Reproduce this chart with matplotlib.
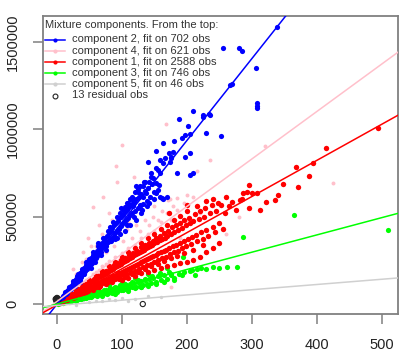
import matplotlib
matplotlib.use("Agg")
import matplotlib.pyplot as plt
from matplotlib.lines import Line2D

plt.rcParams['font.family'] = ['Liberation Sans', 'DejaVu Sans']

# ---------------- data ----------------
comp_names = ["component 2, fit on 702 obs", "component 4, fit on 621 obs",
              "component 1, fit on 2588 obs", "component 3, fit on 746 obs",
              "component 5, fit on 46 obs"]
comp_colors = ["#0000FF", "#FFC0CB", "#FF0000", "#00FF00", "#D0D0D0"]
line_slopes = [4690, 2720, 2070, 990, 300]
line_intercepts = [-1000, 15000, -5000, 0, -8000]

blue_pts = [(3, 14000), (5, 22000), (6, 31000), (8, 35000), (9, 46000), (11, 52000), (12, 60000), (14, 58000),
            (15, 75000), (17, 79000), (18, 92000), (20, 86000), (21, 105000), (23, 98000), (24, 118000),
            (26, 110000), (27, 133000), (29, 121000), (30, 145000), (31, 160000), (33, 138000), (34, 165000),
            (36, 180000), (37, 152000), (38, 190000), (40, 171000), (41, 205000), (43, 188000), (44, 222000),
            (46, 199000), (47, 236000), (48, 210000), (50, 250000), (51, 228000), (53, 262000), (54, 235000),
            (55, 278000), (57, 250000), (58, 290000), (60, 265000), (61, 305000), (62, 276000), (64, 320000),
            (65, 290000), (66, 335000), (68, 300000), (69, 350000), (70, 318000), (72, 362000), (73, 330000),
            (74, 380000), (76, 342000), (77, 392000), (78, 355000), (80, 405000), (81, 368000), (83, 420000),
            (84, 380000), (85, 435000), (87, 392000), (88, 450000), (90, 405000), (91, 462000), (92, 418000),
            (94, 478000), (95, 430000), (96, 490000), (98, 445000), (99, 500000), (100, 458000), (102, 512000),
            (103, 470000), (105, 528000), (106, 482000), (108, 540000), (110, 495000), (111, 555000),
            (113, 508000), (115, 570000), (116, 520000), (118, 585000), (120, 535000), (122, 600000),
            (124, 548000), (126, 615000), (128, 560000), (130, 630000), (132, 575000), (135, 648000),
            (138, 590000), (140, 665000), (143, 612000), (146, 690000), (150, 640000),
            (35, 140000), (45, 240000), (52, 230000), (63, 350000), (75, 310000), (82, 440000), (93, 380000),
            (97, 520000), (107, 450000), (112, 600000), (119, 500000), (125, 640000), (131, 540000),
            (136, 700000), (141, 580000), (148, 720000),
            (10, 40000), (13, 70000), (16, 62000), (19, 100000), (22, 85000), (25, 130000), (28, 105000),
            (32, 170000), (35, 125000), (39, 200000), (42, 170000), (45, 215000), (49, 260000), (52, 205000),
            (56, 300000), (59, 240000), (63, 330000), (67, 280000), (71, 380000), (75, 330000), (79, 420000),
            (83, 360000), (86, 470000), (89, 370000), (93, 500000), (97, 400000), (101, 540000),
            (104, 420000), (108, 580000), (112, 450000), (116, 610000), (121, 480000), (125, 660000),
            (129, 520000), (134, 700000), (139, 560000), (144, 750000), (149, 600000), (152, 780000),
            (157, 680000),
            (117, 596000), (109, 577000), (104, 557000), (117, 561000), (127, 567000), (99, 548000),
            (120, 643000), (137, 634000), (132, 614000), (155, 653000), (153, 634000), (158, 614000),
            (163, 600000), (127, 676000), (132, 676000), (122, 676000), (153, 691000), (145, 729000),
            (142, 700000), (155, 767000), (158, 748000), (140, 815000), (158, 825000), (163, 806000),
            (173, 863000), (176, 834000), (153, 878000), (163, 920000), (180, 935000), (192, 949000),
            (197, 968000), (205, 974000), (188, 1058000), (202, 1019000), (210, 1105000), (225, 1082000),
            (235, 1082000), (230, 977000), (253, 962000), (224, 1073000), (234, 1088000), (269, 1260000),
            (266, 1255000), (306, 1350000), (307, 1150000), (307, 1135000), (307, 1120000), (255, 1464000),
            (280, 1468000), (285, 1451000), (338, 1585000), (178, 872000), (205, 863000), (166, 834000),
            (176, 843000), (174, 815000), (197, 843000), (184, 752000), (205, 739000), (209, 748000),
            (161, 605000), (169, 614000)]

red_pts = [(2, 4000), (4, 7000), (5, 12500), (7, 13000), (8, 19000), (10, 18500), (11, 27000), (13, 24000),
           (14, 33000), (16, 28000), (17, 40000), (19, 36000), (20, 47000), (22, 40000), (23, 52000),
           (25, 46000), (26, 60000), (28, 50000), (29, 68000), (31, 57000), (32, 73000), (34, 62000),
           (35, 80000), (37, 66000), (38, 85000), (40, 75000), (41, 96000), (43, 78000), (44, 100000),
           (46, 84000), (47, 108000), (49, 90000), (50, 118000), (52, 95000), (53, 125000), (55, 100000),
           (56, 130000), (58, 108000), (59, 140000), (61, 112000), (62, 145000), (64, 118000), (65, 152000),
           (67, 122000), (68, 160000), (70, 130000), (71, 168000), (73, 135000), (74, 172000), (76, 140000),
           (77, 180000), (79, 146000), (80, 188000), (82, 150000), (83, 195000), (85, 158000), (86, 200000),
           (88, 162000), (89, 210000), (91, 168000), (92, 215000), (94, 175000), (95, 222000), (97, 180000),
           (98, 230000), (100, 185000), (101, 238000), (103, 190000), (104, 245000), (106, 196000),
           (107, 250000), (109, 200000), (110, 258000), (112, 206000), (113, 265000), (115, 212000),
           (116, 272000), (118, 218000), (119, 278000), (121, 225000), (122, 285000), (124, 230000),
           (125, 292000), (127, 236000), (128, 300000), (130, 242000), (131, 306000), (133, 246000),
           (134, 312000), (136, 252000), (137, 320000), (139, 258000), (140, 326000), (142, 262000),
           (143, 332000), (145, 270000), (146, 340000), (148, 275000), (150, 348000), (152, 282000),
           (154, 356000), (156, 290000), (158, 365000), (160, 298000), (162, 372000), (164, 305000),
           (166, 380000), (168, 312000), (170, 390000), (172, 320000), (175, 400000), (178, 330000),
           (180, 410000), (183, 340000), (186, 425000), (189, 350000), (192, 438000), (195, 362000),
           (198, 450000), (201, 375000), (204, 462000), (207, 385000), (210, 475000), (214, 398000),
           (218, 488000), (222, 410000), (226, 500000), (230, 425000), (235, 520000), (240, 440000),
           (245, 530000), (250, 465000),
           (20, 55000), (30, 80000), (40, 108000), (50, 135000), (60, 160000), (70, 188000), (80, 215000),
           (90, 242000), (100, 270000), (110, 296000), (120, 322000), (130, 350000), (140, 378000),
           (150, 400000), (160, 430000), (170, 455000), (180, 480000), (190, 505000), (200, 530000),
           (215, 560000), (230, 590000),
           (25, 37000), (35, 52000), (45, 67000), (55, 82000), (65, 97000), (75, 112000), (85, 127000),
           (95, 142000), (105, 156000), (115, 172000), (125, 186000), (135, 200000), (145, 216000),
           (155, 232000), (165, 246000), (175, 262000), (185, 276000), (195, 292000), (210, 312000),
           (225, 336000),
           (100, 140000), (110, 150000), (120, 160000), (130, 175000), (140, 185000), (150, 195000),
           (160, 205000), (170, 215000), (180, 225000), (190, 235000), (200, 240000), (210, 255000),
           (220, 270000), (230, 300000), (240, 320000), (250, 350000),
           (15, 22000), (18, 45000), (24, 60000), (27, 42000), (33, 88000), (36, 58000), (39, 100000),
           (42, 65000), (45, 115000), (48, 76000), (51, 128000), (54, 88000), (57, 145000), (60, 95000),
           (63, 160000), (66, 105000), (69, 175000), (72, 118000), (75, 190000), (78, 125000), (81, 205000),
           (84, 138000), (87, 222000), (90, 145000), (93, 235000), (96, 155000), (99, 250000), (102, 165000),
           (105, 262000), (108, 172000), (111, 280000), (114, 182000), (117, 295000), (120, 192000),
           (123, 305000), (126, 200000), (129, 325000), (132, 210000), (135, 338000), (138, 222000),
           (141, 350000), (144, 232000), (147, 362000), (150, 240000), (153, 380000), (156, 250000),
           (159, 392000), (162, 262000), (165, 408000), (168, 270000), (171, 420000), (174, 285000),
           (177, 440000), (180, 300000), (183, 450000), (186, 305000), (189, 465000), (192, 320000),
           (195, 480000), (198, 330000), (203, 495000), (206, 345000), (212, 515000), (216, 360000),
           (220, 535000), (224, 375000), (228, 550000), (232, 390000), (238, 565000), (243, 410000),
           (248, 580000), (255, 430000), (258, 520000), (265, 560000), (275, 540000), (285, 600000),
           (253, 567000), (269, 586000), (282, 596000), (295, 548000), (312, 538000), (322, 586000),
           (335, 596000), (295, 681000), (286, 636000), (292, 640000), (300, 638000), (308, 635000),
           (340, 624000), (348, 685000), (370, 672000), (367, 786000), (388, 735000), (394, 805000),
           (414, 892000), (494, 1006000), (172, 520000), (200, 565000), (240, 600000), (260, 610000)]

green_pts = [(2, 2000), (4, 5000), (6, 4000), (8, 9000), (10, 8000), (12, 13000), (14, 11000), (16, 17000),
             (18, 14000), (20, 21000), (22, 18000), (24, 25000), (26, 22000), (28, 30000), (30, 26000),
             (32, 33000), (34, 28000), (36, 38000), (38, 32000), (40, 42000), (42, 36000), (44, 46000),
             (46, 38000), (48, 50000), (50, 43000), (52, 55000), (54, 46000), (56, 58000), (58, 50000),
             (60, 62000), (62, 52000), (64, 66000), (66, 56000), (68, 70000), (70, 58000), (72, 74000),
             (74, 62000), (76, 78000), (78, 66000), (80, 82000), (82, 68000), (84, 86000), (86, 72000),
             (88, 90000), (90, 75000), (92, 94000), (94, 78000), (96, 98000), (98, 82000), (100, 102000),
             (103, 85000), (106, 108000), (109, 90000), (112, 115000), (115, 96000), (118, 120000),
             (121, 100000), (124, 126000), (127, 106000), (130, 132000), (133, 110000), (136, 138000),
             (139, 115000), (142, 145000), (145, 120000), (148, 150000), (152, 128000), (156, 158000),
             (160, 135000), (165, 165000), (170, 142000), (175, 172000), (180, 150000),
             (60, 85000), (80, 110000), (100, 130000), (120, 150000), (140, 170000), (70, 45000),
             (90, 60000), (110, 75000), (130, 95000),
             (5, 8000), (9, 12000), (13, 10000), (17, 20000), (21, 15000), (25, 28000), (29, 20000),
             (33, 38000), (37, 30000), (41, 47000), (45, 33000), (49, 55000), (53, 40000), (57, 62000),
             (61, 48000), (65, 72000), (69, 52000), (73, 80000), (77, 60000), (81, 90000), (85, 65000),
             (89, 98000), (93, 70000), (97, 108000), (101, 78000), (105, 115000), (110, 85000),
             (115, 125000), (120, 92000), (125, 135000), (130, 100000), (135, 145000), (140, 105000),
             (146, 160000), (152, 115000), (158, 175000), (164, 125000), (172, 185000), (180, 140000),
             (188, 170000), (196, 185000), (204, 190000),
             (158, 166000), (169, 206000), (176, 166000), (192, 166000), (212, 166000), (194, 267000),
             (208, 195000), (215, 200000), (222, 205000), (230, 198000), (240, 210000), (250, 205000),
             (262, 212000), (277, 212000), (286, 382000), (365, 510000), (509, 424000)]

pink_pts = [(3, 9000), (5, 12000), (8, 24000), (10, 30000), (12, 30000), (15, 45000), (18, 50000), (20, 60000),
            (22, 55000), (25, 75000), (28, 70000), (30, 90000), (33, 85000), (35, 105000), (38, 95000),
            (40, 120000), (43, 110000), (45, 135000), (48, 125000), (50, 150000), (53, 140000), (55, 170000),
            (58, 155000), (60, 185000), (63, 170000), (65, 195000), (68, 180000), (70, 215000), (73, 195000),
            (75, 230000), (78, 210000), (80, 245000), (85, 225000), (90, 270000), (95, 250000),
            (100, 290000), (105, 270000), (110, 320000), (115, 300000), (120, 340000), (130, 380000),
            (140, 400000), (150, 420000), (160, 470000), (175, 480000),
            (12, 60000), (20, 100000), (28, 130000), (35, 180000), (42, 210000), (50, 260000), (55, 300000),
            (62, 280000), (68, 350000), (75, 300000), (82, 380000), (88, 330000), (95, 420000),
            (102, 360000), (108, 430000), (115, 380000), (122, 450000), (128, 420000), (135, 480000),
            (142, 450000), (148, 500000), (155, 480000), (162, 530000), (170, 520000), (178, 560000),
            (185, 540000), (195, 580000), (48, 380000), (65, 450000), (80, 520000), (38, 240000),
            (52, 330000),
            (55, 553000), (71, 614000), (92, 700000), (91, 790000), (100, 910000), (118, 729000),
            (168, 1031000), (171, 596000), (174, 600000), (184, 605000), (200, 624000), (210, 614000),
            (215, 763000), (236, 825000), (320, 907000), (425, 691000), (176, 96000), (30, 170000),
            (45, 260000), (60, 330000), (25, 200000), (40, 300000), (70, 400000), (85, 480000),
            (110, 470000), (130, 520000), (150, 560000), (190, 380000), (200, 470000), (220, 520000),
            (240, 560000), (260, 400000), (280, 500000)]

gray_pts = [(10, 3000), (20, 6000), (30, 9000), (40, 23000), (50, 10000), (60, 18000), (80, 30000),
            (90, 25000), (100, 35000), (120, 28000), (140, 45000), (160, 40000), (30, -5000), (70, 15000),
            (110, 20000)]

resid_pts = [(132, 0), (0, 25000), (-1, 30000), (1, 20000), (0, 35000), (-2, 28000), (2, 15000),
             (0, 22000), (1, 32000), (-1, 18000), (0, 27000), (2, 24000), (-1, 26000)]

x_ticks = [0, 100, 200, 300, 400, 500]
y_ticks = [0, 500000, 1000000, 1500000]
legend_title = "Mixture components. From the top:"
resid_label = "13 residual obs"

# ---------------- figure ----------------
W, H = 399, 354
fig = plt.figure(figsize=(W / 100, H / 100), dpi=100)
ax_l, ax_r, ax_t, ax_b = 43, 398, 16, 314
ax = fig.add_axes([ax_l / W, 1 - ax_b / H, (ax_r - ax_l) / W, (ax_b - ax_t) / H])

def xs(p):
    return [a for a, b in p]

def ys(p):
    return [b for a, b in p]

ax.scatter(xs(pink_pts), ys(pink_pts), s=8, color=comp_colors[1], linewidths=0, zorder=2)
ax.scatter(xs(gray_pts), ys(gray_pts), s=6, color=comp_colors[4], linewidths=0, zorder=2)
ax.scatter(xs(green_pts), ys(green_pts), s=14, color=comp_colors[3], linewidths=0, zorder=3)
ax.scatter(xs(red_pts), ys(red_pts), s=15, color=comp_colors[2], linewidths=0, zorder=3)
ax.scatter(xs(blue_pts), ys(blue_pts), s=14, color=comp_colors[0], linewidths=0, zorder=3)
ax.scatter(xs(resid_pts), ys(resid_pts), s=14, facecolors='none', edgecolors='#222222',
           linewidths=0.8, zorder=4)

for sl, ic, c in zip(line_slopes, line_intercepts, comp_colors):
    ax.axline((0, ic), slope=sl, color=c, lw=1.1, zorder=5)

ax.set_xlim(-21.5, 524.6)
ax.set_ylim(-57000, 1649000)
ax.set_xticks(x_ticks)
ax.set_xticklabels([str(v) for v in x_ticks])
ax.set_yticks(y_ticks)
ax.set_yticklabels([str(v) for v in y_ticks], rotation=90, va='center')

frame_c = '#808080'
for s in ax.spines.values():
    s.set_color(frame_c)
    s.set_linewidth(1.3)
ax.tick_params(axis='both', direction='out', length=7, width=1.1, color=frame_c,
               labelsize=10.5, labelcolor='#222222')
ax.tick_params(axis='x', pad=10)
ax.tick_params(axis='y', pad=10)

# ---------------- legend (R style, no box) ----------------
AW, AH = ax_r - ax_l, ax_b - ax_t

def fx(px):
    return (px - ax_l) / AW

def fy(py):
    return 1 - (py - ax_t) / AH

txt_c = '#333333'
ax.text(fx(45), fy(25), legend_title, transform=ax.transAxes, fontsize=8, color=txt_c,
        va='center', ha='left', zorder=6)
row_y = [39.5, 50.7, 61.9, 73.1, 84.3]
for yy, name, c in zip(row_y, comp_names, comp_colors):
    ax.add_line(Line2D([fx(45), fx(65)], [fy(yy), fy(yy)], transform=ax.transAxes, color=c, lw=1.1,
                       zorder=6, clip_on=False))
    ax.add_line(Line2D([fx(55)], [fy(yy)], transform=ax.transAxes, color=c, marker='o', ms=3,
                       mew=0, zorder=6, clip_on=False))
    ax.text(fx(72), fy(yy), name, transform=ax.transAxes, fontsize=8, color=txt_c,
            va='center', ha='left', zorder=6)
ax.add_line(Line2D([fx(55)], [fy(95.5)], transform=ax.transAxes, color='#222222', marker='o', ms=3.5,
                   mfc='none', mew=0.8, zorder=6, clip_on=False))
ax.text(fx(72), fy(95.5), resid_label, transform=ax.transAxes, fontsize=8, color=txt_c,
        va='center', ha='left', zorder=6)

fig.savefig("out.png", dpi=100)
